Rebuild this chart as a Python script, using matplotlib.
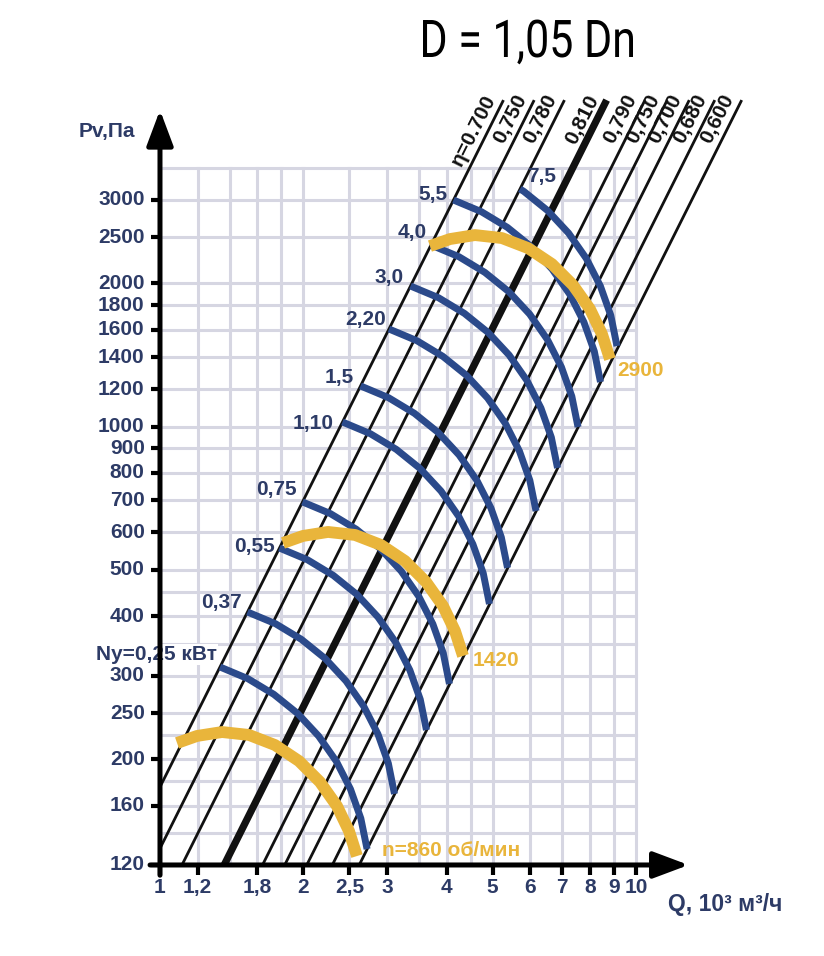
import matplotlib.pyplot as plt
from matplotlib.textpath import TextPath
from matplotlib.patches import PathPatch
from matplotlib.font_manager import FontProperties
from matplotlib.transforms import Affine2D, IdentityTransform

# Q, 10^3 м3/ч ; Pv, Па
x_ticks = [1, 1.2, 1.6, 2, 2.5, 3, 4, 5, 6, 7, 8, 9, 10]
x_tick_labels = ['1', '1,2', '1,8', '2', '2,5', '3', '4', '5', '6', '7', '8', '9', '10']
y_ticks = [120, 160, 200, 250, 300, 400, 500, 600, 700, 800, 900, 1000,
           1200, 1400, 1600, 1800, 2000, 2500, 3000]
x_grid = [1, 1.2, 1.4, 1.6, 1.8, 2, 2.5, 3, 3.5, 4, 4.5, 5, 6, 7, 8, 9, 10]
y_grid = [120, 140, 160, 180, 200, 225, 250, 300, 350, 400, 450, 500, 600, 700,
          800, 900, 1000, 1200, 1400, 1600, 1800, 2000, 2500, 3000, 3500]

# линии КПД: P = k * Q^2
eta_labels = ['η=0.700', '0,750', '0,780', '0,810', '0,790', '0,750', '0,700', '0,680', '0,600']
eta_k = [175, 130, 97, 64.5, 44.5, 35.9, 29.0, 22.65, 17.46]
eta_p_top = 4855

# мощность Ny, кВт
ny_labels = ['Ny=0,25 кВт', '0,37', '0,55', '0,75', '1,10', '1,5', '2,20', '3,0', '4,0', '5,5', '7,5']
ny_q = [
    [1.337, 1.530, 1.735, 1.947, 2.154, 2.347, 2.513, 2.642, 2.723],
    [1.527, 1.748, 1.982, 2.224, 2.460, 2.680, 2.870, 3.018, 3.109],
    [1.782, 2.040, 2.313, 2.595, 2.871, 3.128, 3.349, 3.522, 3.629],
    [1.992, 2.280, 2.585, 2.901, 3.210, 3.496, 3.743, 3.937, 4.056],
    [2.417, 2.766, 3.137, 3.520, 3.894, 4.242, 4.542, 4.777, 4.922],
    [2.638, 3.019, 3.424, 3.842, 4.250, 4.630, 4.957, 5.213, 5.372],
    [3.028, 3.466, 3.930, 4.410, 4.879, 5.315, 5.690, 5.984, 6.166],
    [3.360, 3.846, 4.361, 4.893, 5.414, 5.898, 6.314, 6.640, 6.842],
    [3.710, 4.246, 4.815, 5.403, 5.978, 6.512, 6.972, 7.332, 7.555],
    [4.136, 4.734, 5.368, 6.023, 6.664, 7.260, 7.772, 8.174, 8.422],
    [5.705, 5.814, 6.523, 7.217, 7.862, 8.418, 8.852, 9.121],
]
ny_p = [
    [312.7, 295.5, 273.9, 249.6, 223.9, 198.1, 173.2, 150.3, 129.6],
    [408.0, 385.6, 357.4, 325.7, 292.1, 258.4, 226.0, 196.2, 169.2],
    [556.0, 525.4, 487.0, 443.8, 398.0, 352.2, 308.0, 267.3, 230.5],
    [695.0, 656.8, 608.8, 554.7, 497.5, 440.2, 385.0, 334.2, 288.1],
    [1023, 966.7, 896.0, 816.6, 732.4, 648.0, 566.7, 491.9, 424.1],
    [1218, 1151, 1066.8, 972.2, 872.0, 771.5, 674.8, 585.6, 505.0],
    [1604, 1515.8, 1404.9, 1280.3, 1148.3, 1016.0, 888.6, 771.2, 665.0],
    [1975, 1866.4, 1729.9, 1576.4, 1413.9, 1251.0, 1094.2, 949.6, 818.8],
    [2408, 2275.6, 2109.2, 1922.1, 1723.9, 1525.2, 1334.0, 1157.8, 998.4],
    [2994, 2829.3, 2622.4, 2389.8, 2143.4, 1896.4, 1658.7, 1439.5, 1241.3],
    [3158, 3121, 2844, 2551, 2257, 1974, 1713, 1477],
]

# частота вращения n, об/мин
n_labels = ['n=860 об/мин', '1420', '2900']
n_q = [
    [1.086, 1.196, 1.350, 1.538, 1.744, 1.959, 2.168, 2.354, 2.495, 2.593],
    [1.813, 1.997, 2.254, 2.569, 2.913, 3.271, 3.621, 3.931, 4.166, 4.331],
    [3.691, 4.066, 4.589, 5.229, 5.930, 6.660, 7.371, 8.003, 8.482, 8.816],
]
n_p = [
    [216.5, 224.0, 228.3, 225.1, 214.4, 198.4, 179.3, 159.6, 141.4, 125.3],
    [569.8, 589.5, 601.0, 592.3, 564.3, 522.3, 471.9, 420.1, 372.3, 329.9],
    [2396, 2478.7, 2527.1, 2490.6, 2373.0, 2196.2, 1984.1, 1766.6, 1565.3, 1387.0],
]

NAVY = '#2d3b66'
BLUE = '#2b4a8b'
GOLD = '#e9b53b'
GRID = '#d6d6e2'
FONT = ['Liberation Sans', 'DejaVu Sans']

fig = plt.figure(figsize=(8.24, 9.56), dpi=100)
ax = fig.add_axes([0, 0, 1, 1])
ax.set_xscale('log')
ax.set_yscale('log')
ax.set_xlim(0.4612, 24.83)
ax.set_ylim(77.26, 7879)
ax.axis('off')

# сетка
for q in x_grid:
    ax.plot([q, q], [120, 3500], color=GRID, lw=2.2, zorder=1)
for p in y_grid:
    ax.plot([1, 10], [p, p], color=GRID, lw=2.2, zorder=1)

# линии КПД
for k, lab in zip(eta_k, eta_labels):
    q0 = max(1.0, (120 / k) ** 0.5)
    q1 = (eta_p_top / k) ** 0.5
    ax.plot([q0, q1], [k * q0 ** 2, k * q1 ** 2], color='#111111',
            lw=5.2 if lab == '0,810' else 2.0, solid_capstyle='butt', zorder=2)
    ax.annotate(lab, xy=(q1, eta_p_top), xytext=(-3, 0), textcoords='offset points',
                rotation=63.4, rotation_mode='anchor', ha='right', va='bottom',
                fontsize=15, fontweight='bold', family=FONT, color='#111111', zorder=6)

# мощность
ny_offsets = [(-2, 9), (-4, 7), (-3, 1), (-4, 9), (-6, -1), (-5, 6), (-2, 7), (-5, 6), (-3, 9), (-4, 4), (5, 9)]
for qs, ps, lab, off in zip(ny_q, ny_p, ny_labels, ny_offsets):
    ax.plot(qs, ps, color=BLUE, lw=5, solid_capstyle='butt', solid_joinstyle='round', zorder=3)
    ha = 'left' if lab == '7,5' else 'right'
    bbox = dict(fc='white', ec='none', pad=0.5) if lab.startswith('Ny') else None
    ax.annotate(lab, xy=(qs[0], ps[0]), xytext=off, textcoords='offset points',
                ha=ha, va='center', fontsize=15, fontweight='bold', family=FONT,
                color=NAVY, bbox=bbox, zorder=7)

# частота вращения
n_offsets = [(18, 4), (7, -3), (5, -8)]
for qs, ps, lab, off in zip(n_q, n_p, n_labels, n_offsets):
    ax.plot(qs, ps, color=GOLD, lw=8.5, solid_capstyle='butt', solid_joinstyle='round', zorder=4)
    ax.annotate(lab, xy=(qs[-1], ps[-1]), xytext=off, textcoords='offset points',
                ha='left', va='center', fontsize=15, fontweight='bold', family=FONT,
                color=GOLD, zorder=7)

# оси со стрелками
arrow = dict(arrowstyle='-|>,head_length=1.2,head_width=0.45', color='black',
             lw=3.6, mutation_scale=18, shrinkA=0, shrinkB=0)
ax.annotate('', xy=(12.9, 120), xytext=(0.953, 120), arrowprops=arrow, zorder=8)
ax.annotate('', xy=(1, 4627), xytext=(1, 114.2), arrowprops=arrow, zorder=8)

for p in y_ticks:
    ax.plot([0.957, 1], [p, p], color='black', lw=3, solid_capstyle='butt', zorder=8)
    ax.annotate(str(p), xy=(1, p), xytext=(-11, 0), textcoords='offset points',
                ha='right', va='center', fontsize=15, fontweight='bold',
                family=FONT, color=NAVY)
for q, lab in zip(x_ticks, x_tick_labels):
    ax.plot([q, q], [114.5, 120], color='black', lw=3, solid_capstyle='butt', zorder=8)
    ax.annotate(lab, xy=(q, 120), xytext=(0, -16), textcoords='offset points',
                ha='center', va='center', fontsize=15, fontweight='bold',
                family=FONT, color=NAVY)

fig.text(135 / 824, 1 - 132 / 956, 'Pv,Па', ha='right', va='center',
         fontsize=15, fontweight='bold', family=FONT, color=NAVY)
fig.text(725 / 824, 1 - 905 / 956, 'Q, 10³ м³/ч', ha='center', va='center',
         fontsize=16.5, fontweight='bold', family=FONT, color=NAVY)

# заголовок узким начертанием
title = TextPath((0, 0), 'D = 1,05 Dn', size=52, prop=FontProperties(family='Roboto'))
ext = title.get_extents()
sx = 210 / ext.width
tr = (Affine2D().translate(-ext.x0 - ext.width / 2, 0).scale(sx, 1)
      .translate(528, 956 - 57) + IdentityTransform())
fig.add_artist(PathPatch(title, transform=tr, fc='black', lw=0))

fig.savefig('out.png', dpi=100)
